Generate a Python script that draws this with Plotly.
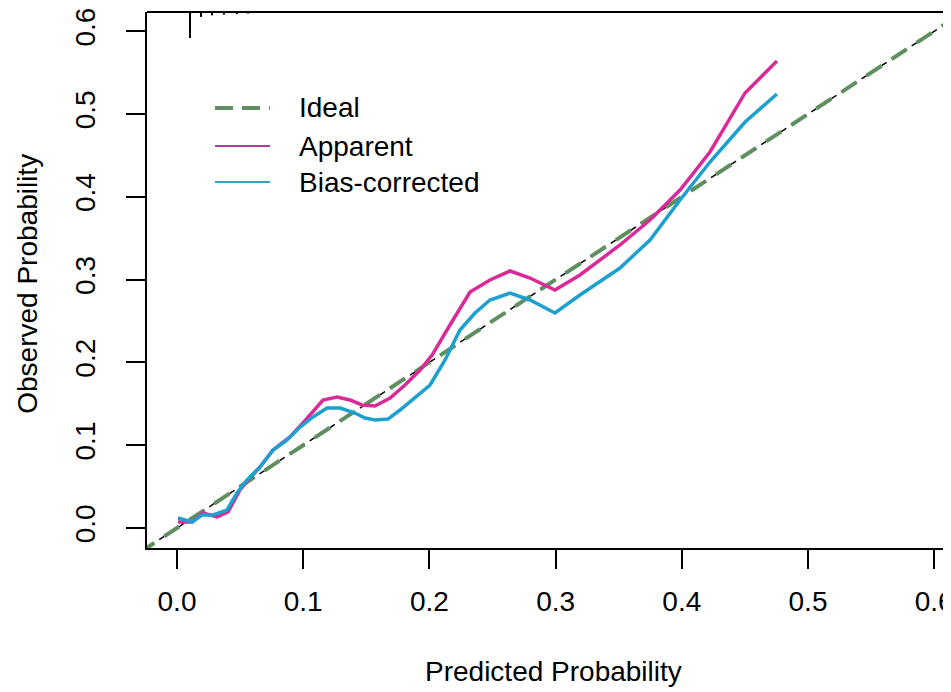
import plotly.graph_objects as go

# ---- data ----
apparent_x = [0.0008, 0.0119, 0.0206, 0.0317, 0.0404, 0.0499, 0.0578, 0.0658, 0.0761, 0.0895,
              0.0998, 0.1157, 0.1268, 0.1371, 0.1466, 0.1569, 0.1688, 0.1807, 0.1926, 0.2021,
              0.2163, 0.2322, 0.2480, 0.2639, 0.2797, 0.2995, 0.3193, 0.3510, 0.3748, 0.3986,
              0.4223, 0.4501, 0.4754]
apparent_y = [0.0072, 0.0072, 0.0181, 0.0133, 0.0193, 0.0459, 0.0604, 0.0737, 0.0942, 0.1099,
              0.1268, 0.1546, 0.1582, 0.1546, 0.1486, 0.1473, 0.1570, 0.1727, 0.1908, 0.2089,
              0.2452, 0.2850, 0.2995, 0.3104, 0.3019, 0.2874, 0.3056, 0.3418, 0.3720, 0.4082,
              0.4541, 0.5254, 0.5640]

bias_x = [0.0008, 0.0119, 0.0198, 0.0285, 0.0396, 0.0475, 0.0555, 0.0658, 0.0761, 0.0872,
          0.0975, 0.1078, 0.1189, 0.1292, 0.1410, 0.1490, 0.1569, 0.1672, 0.1767, 0.1886,
          0.2005, 0.2124, 0.2242, 0.2361, 0.2480, 0.2639, 0.2797, 0.2995, 0.3193, 0.3510,
          0.3748, 0.3986, 0.4223, 0.4501, 0.4754]
bias_y = [0.0121, 0.0072, 0.0157, 0.0157, 0.0217, 0.0423, 0.0580, 0.0737, 0.0942, 0.1063,
          0.1220, 0.1341, 0.1449, 0.1449, 0.1389, 0.1329, 0.1304, 0.1316, 0.1425, 0.1570,
          0.1727, 0.2029, 0.2391, 0.2597, 0.2754, 0.2838, 0.2754, 0.2597, 0.2814, 0.3140,
          0.3478, 0.3961, 0.4420, 0.4903, 0.5242]

# rug (distribution of predicted probabilities) at top
rug_x = [0.0103, 0.0190, 0.0277, 0.0372, 0.0475, 0.0563]
rug_rel = [1.0, 0.19, 0.13, 0.10, 0.08, 0.06]

ideal_range = [-0.03, 0.65]
tick_vals = [0.0, 0.1, 0.2, 0.3, 0.4, 0.5, 0.6]
tick_text = ["0.0", "0.1", "0.2", "0.3", "0.4", "0.5", "0.6"]

legend_labels = ["Ideal", "Apparent", "Bias-corrected"]

X_RANGE = [-0.02377, 0.6133]
Y_RANGE = [-0.02415, 0.6232]

GREEN = "#5f8f5f"
MAGENTA = "#d92a98"
BLUE = "#1ca0cf"
FONT = "Liberation Sans, Arial, sans-serif"

fig = go.Figure()

# ideal line: black thin dashed underneath, green dashed on top
fig.add_trace(go.Scatter(x=ideal_range, y=ideal_range, mode="lines",
                         line=dict(color="black", width=1.5, dash="6px,6px"),
                         showlegend=False, hoverinfo="skip"))
fig.add_trace(go.Scatter(x=ideal_range, y=ideal_range, mode="lines", name="Ideal",
                         line=dict(color=GREEN, width=4, dash="18px,12px"),
                         showlegend=False, hoverinfo="skip"))

fig.add_trace(go.Scatter(x=apparent_x, y=apparent_y, mode="lines", name="Apparent",
                         line=dict(color=MAGENTA, width=3.5), showlegend=False))
fig.add_trace(go.Scatter(x=bias_x, y=bias_y, mode="lines", name="Bias-corrected",
                         line=dict(color=BLUE, width=3.5), showlegend=False))

# rug
rug_len = 0.0314
rx, ry = [], []
top = Y_RANGE[1]
for xv, r in zip(rug_x, rug_rel):
    rx += [xv, xv, None]
    ry += [top, top - r * rug_len, None]
fig.add_trace(go.Scatter(x=rx, y=ry, mode="lines", line=dict(color="black", width=2),
                         showlegend=False, hoverinfo="skip"))

axis_common = dict(
    showgrid=False, zeroline=False, showline=True, linecolor="black", linewidth=2,
    ticks="outside", ticklen=19, tickwidth=2, tickcolor="black",
    tickvals=tick_vals, ticktext=tick_text, automargin=False,
    ticklabeloverflow="allow",
    tickfont=dict(family=FONT, size=28, color="black"),
)

# legend drawn as in base R: sample line + label
leg_styles = [dict(color=GREEN, width=4, dash="18px,9px"),
              dict(color="#b0409a", width=2),
              dict(color="#30a4bf", width=2)]
leg_y = [0.8209, 0.75, 0.6828]
shapes = [dict(type="line", xref="paper", yref="paper", x0=0, x1=1.02, y0=1, y1=1,
               line=dict(color="black", width=2))]
annotations = []
for lab, st, yy in zip(legend_labels, leg_styles, leg_y):
    shapes.append(dict(type="line", xref="paper", yref="paper", x0=0.0846, x1=0.1530,
                       y0=yy, y1=yy, line=st))
    annotations.append(dict(text=lab, xref="paper", yref="paper", x=0.1866, y=yy,
                            xanchor="left", yanchor="middle", showarrow=False,
                            font=dict(family=FONT, size=28, color="black")))

annotations += [
    dict(text="Predicted Probability", xref="paper", yref="paper", x=0.505, y=-0.231,
         xanchor="center", yanchor="middle", showarrow=False,
         font=dict(family=FONT, size=28, color="black")),
    dict(text="Observed Probability", xref="paper", yref="paper", x=-0.148, y=0.493,
         xanchor="center", yanchor="middle", showarrow=False, textangle=-90,
         font=dict(family=FONT, size=28, color="black")),
]

# the page places the figure 8px from the top-left corner
fig.update_layout(
    width=943, height=684,
    margin=dict(l=139, r=0, t=4, b=144),
    plot_bgcolor="white", paper_bgcolor="white",
    xaxis=dict(range=X_RANGE, ticklabelstandoff=8, **axis_common),
    yaxis=dict(range=Y_RANGE, tickangle=-90, ticklabelstandoff=20, **axis_common),
    showlegend=False,
    shapes=shapes,
    annotations=annotations,
)

fig.write_html("out.html")
